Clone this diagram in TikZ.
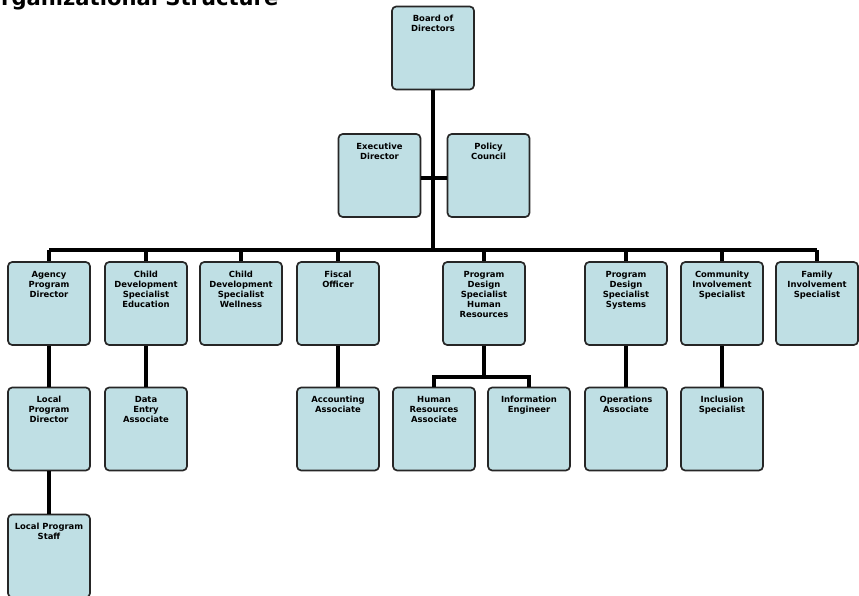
\documentclass[tikz,border=0pt]{standalone}
\usepackage{fontspec}
\usepackage{tikz}
\usetikzlibrary{positioning}
\newfontfamily\chartfont{DejaVu Sans}
\definecolor{boxblue}{RGB}{191,223,228}
\tikzset{orgbox/.style={draw=black!85, line width=1.2pt, fill=boxblue, rounded corners=3pt,
    text width=1.8cm, align=center, inner xsep=0.125cm, inner ysep=0.1cm,
    text height=0.28cm, text depth=1.595cm,
    font=\chartfont\bfseries\fontsize{6}{7.1}\selectfont}}
\tikzset{link/.style={line width=2.6pt}}

\begin{document}
\begin{tikzpicture}[x=0.025cm,y=-0.025cm]
\useasboundingbox (0,0) rectangle (859,596);
\node[anchor=base west, inner sep=0, font=\chartfont\bfseries\fontsize{15}{18}\selectfont] (title) at (-17,6) {Organizational Structure};
% top
\node[orgbox] (board) at (433,48) {Board of\\Directors};
\node[orgbox] (exec) at (379.5,175.5) {Executive\\Director};
\node[orgbox] (policy) at (488.5,175.5) {Policy\\Council};
% second row
\node[orgbox] (agency) at (49,303.5) {Agency\\Program\\Director};
\node[orgbox] (cdsedu) at (146,303.5) {Child\\Development\\Specialist\\Education};
\node[orgbox] (cdswell) at (241,303.5) {Child\\Development\\Specialist\\Wellness};
\node[orgbox] (fiscal) at (338,303.5) {Fiscal\\Officer};
\node[orgbox] (pdshr) at (484,303.5) {Program\\Design\\Specialist\\Human\\Resources};
\node[orgbox] (pdssys) at (626,303.5) {Program\\Design\\Specialist\\Systems};
\node[orgbox] (community) at (722,303.5) {Community\\Involvement\\Specialist};
\node[orgbox] (family) at (817,303.5) {Family\\Involvement\\Specialist};
% third row
\node[orgbox] (localdir) at (49,429) {Local\\Program\\Director};
\node[orgbox] (dataentry) at (146,429) {Data\\Entry\\Associate};
\node[orgbox] (accounting) at (338,429) {Accounting\\Associate};
\node[orgbox] (hrassoc) at (434,429) {Human\\Resources\\Associate};
\node[orgbox] (infoeng) at (529,429) {Information\\Engineer};
\node[orgbox] (operations) at (626,429) {Operations\\Associate};
\node[orgbox] (inclusion) at (722,429) {Inclusion\\Specialist};
% fourth row
\node[orgbox] (localstaff) at (49,556) {Local Program\\Staff};

\coordinate (bus) at (433,250);
\coordinate (split) at (484,377);
\draw[link] (board.south) -- (bus);
\draw[link] (exec.east |- 0,178) -- (policy.west |- 0,178);
\draw[link] (agency.north |- bus) -- (family.north |- bus);
\foreach \n in {agency,cdsedu,cdswell,fiscal,pdshr,pdssys,community,family}
  \draw[link] (\n.north) -- (\n.north |- bus);
\draw[link] (agency) -- (localdir);
\draw[link] (localdir) -- (localstaff);
\draw[link] (cdsedu) -- (dataentry);
\draw[link] (fiscal) -- (accounting);
\draw[link] (pdshr.south) -- (split);
\draw[link] (hrassoc.north) |- (split) -| (infoeng.north);
\draw[link] (pdssys) -- (operations);
\draw[link] (community) -- (inclusion);
\end{tikzpicture}
\end{document}
